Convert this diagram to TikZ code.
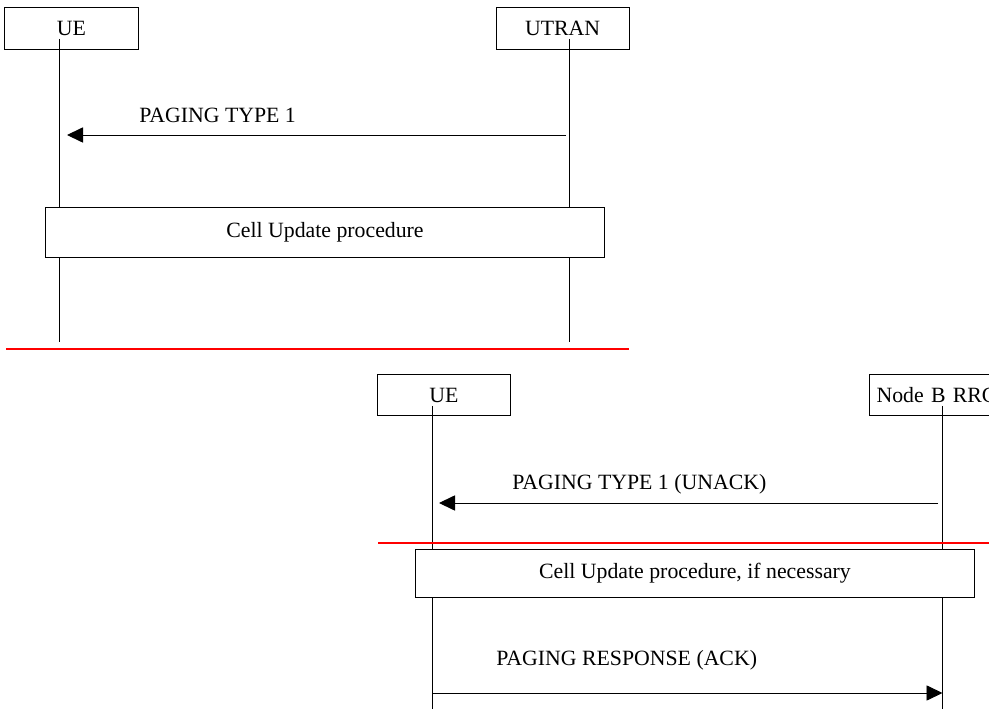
\documentclass[tikz,border=0pt]{standalone}
\usepackage{fontspec}
\setmainfont{Liberation Serif}
\usetikzlibrary{positioning,arrows.meta}

\tikzset{
  entity/.style={draw,line width=0.7pt,minimum width=3.325cm,minimum height=1.025cm,inner sep=0pt},
  procbox/.style={draw,fill=white,line width=0.7pt,inner sep=0pt,minimum width=13.95cm},
  msg/.style={-{Triangle[length=0.4cm,width=0.38cm]},line width=0.7pt},
  life/.style={line width=0.7pt},
  lbl/.style={anchor=base west,inner sep=0pt},
  redsep/.style={red,line width=1.4pt}
}

\begin{document}
\begin{tikzpicture}[x=0.025cm,y=-0.025cm,font=\fontsize{15.5}{18}\selectfont]
	\useasboundingbox (0,0) rectangle (989,715);
	\clip (0,0) rectangle (989,715);
	% upper chart
	\node[entity] (ueA) at (71.5,28.5) {UE};
	\node[entity,right=8.925cm of ueA] (utran) {UTRAN};
	\coordinate (ueAtop) at (59,39);
	\coordinate (ueAbot) at (59,342);
	\coordinate (utranTop) at (569.5,39);
	\coordinate (utranBot) at (569.5,342);
	\draw[life] (ueAtop) -- (ueAbot);
	\draw[life] (utranTop) -- (utranBot);
	
	\coordinate (pg1from) at (566,135);
	\coordinate (pg1to) at (59,135);
	\draw[msg,shorten >=0.2cm] (pg1from) -- (pg1to);
	\node[lbl] (pg1) at (139,123) {PAGING TYPE 1};
	
	\node[procbox,minimum height=1.225cm] (cuA) at (325,232.5) {Cell Update procedure};
	
	\coordinate (sepAl) at (6,349);
	\coordinate (sepAr) at (629,349);
	\draw[redsep] (sepAl) -- (sepAr);
	
	% lower chart
	\node[entity] (ueB) at (444,395) {UE};
	\node[entity,right=8.95cm of ueB,text width=7.65cm,align=left,inner xsep=0.175cm,minimum width=8cm] (nodeb) {Node B RRC};
	\coordinate (ueBtop) at (432,406);
	\coordinate (ueBbot) at (432,709);
	\coordinate (nbTop) at (942.5,406);
	\coordinate (nbBot) at (942.5,709);
	\draw[life] (ueBtop) -- (ueBbot);
	\draw[life] (nbTop) -- (nbBot);
	
	\coordinate (pg2from) at (938,503);
	\coordinate (pg2to) at (432,503);
	\draw[msg,shorten >=0.175cm] (pg2from) -- (pg2to);
	\node[lbl] (pg2) at (512,490) {PAGING TYPE 1 (UNACK)};
	
	\coordinate (sepBl) at (378,543);
	\coordinate (sepBr) at (1000,543);
	\draw[redsep] (sepBl) -- (sepBr);
	
	\node[procbox,minimum height=1.2cm] (cuB) at (695,573) {Cell Update procedure, if necessary};
	
	\coordinate (rspfrom) at (432,693);
	\coordinate (rspto) at (942.5,693);
	\draw[msg] (rspfrom) -- (rspto);
	\node[lbl] (rsp) at (496,665) {PAGING RESPONSE (ACK)};
\end{tikzpicture}
\end{document}
